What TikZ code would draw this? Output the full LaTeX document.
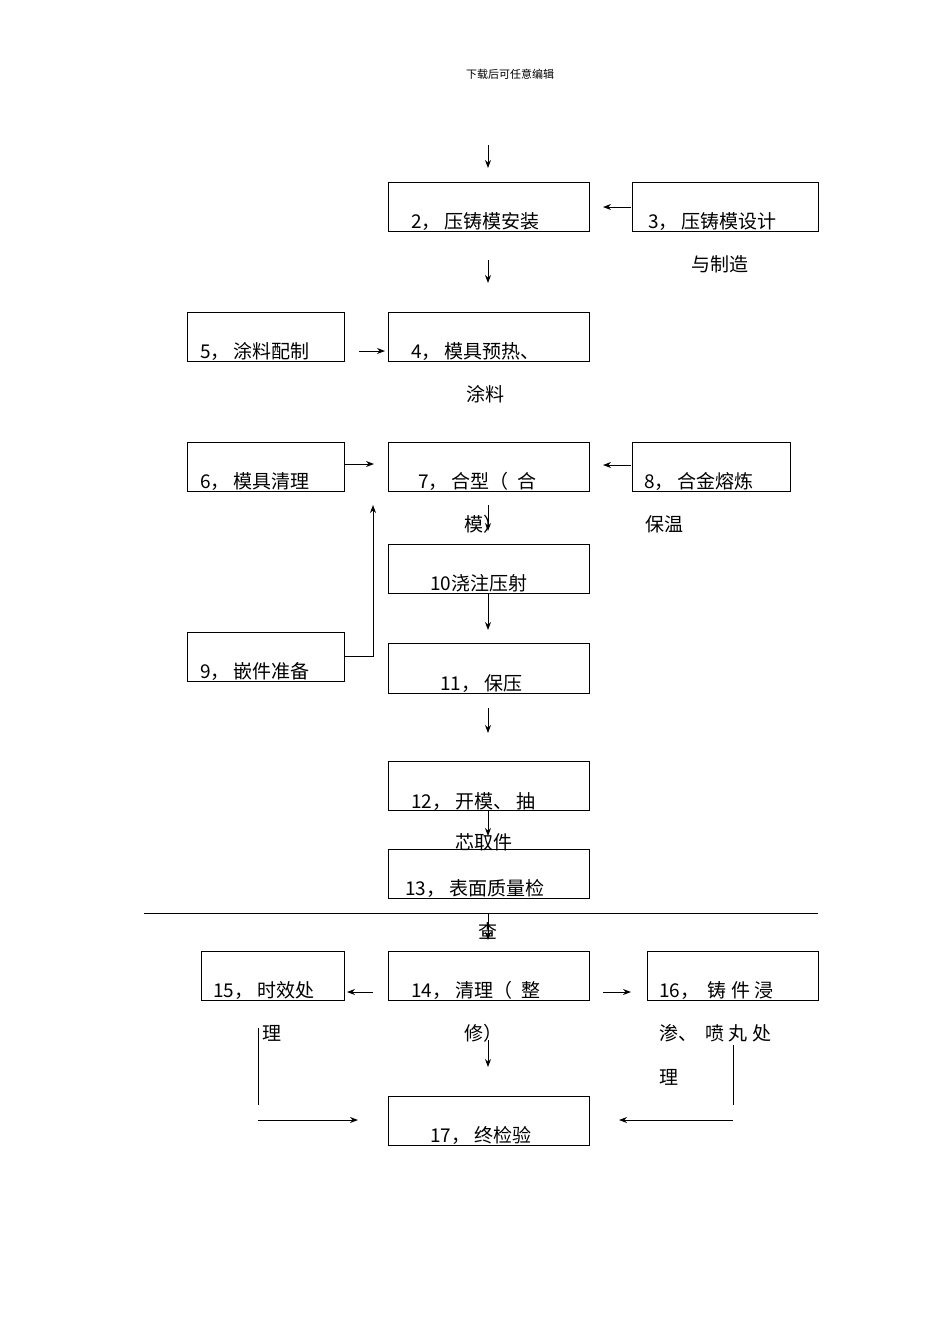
\documentclass[tikz,border=0pt]{standalone}
\usepackage{fontspec}
\setmainfont{Liberation Serif}
\newfontfamily\cjk{Noto Sans CJK SC}
\usetikzlibrary{arrows.meta}
\begin{document}
\begin{tikzpicture}[x=1pt,y=-1pt,
  bx/.style={draw,line width=1pt,inner sep=0pt},
  tx/.style={anchor=base west,inner sep=0pt,font=\cjk\fontsize{19}{22}\selectfont},
  ar/.style={line width=1pt,-{Stealth[length=8pt,width=6pt]}},
  ln/.style={line width=1pt}]
\useasboundingbox (0,0) rectangle (950,1344);
\node[anchor=base,font=\cjk\fontsize{11}{13}\selectfont] (hd) at (510,78) {下载后可任意编辑};
% boxes
\draw[bx] (388,182) rectangle (589,231); \coordinate (b2n) at (488,182); \coordinate (b2s) at (488,231);
\draw[bx] (632,182) rectangle (818,231);
\draw[bx] (187,312) rectangle (344,361);
\draw[bx] (388,312) rectangle (589,361);
\draw[bx] (187,442) rectangle (344,491);
\draw[bx] (388,442) rectangle (589,491);
\draw[bx] (632,442) rectangle (790,491);
\draw[bx] (388,544) rectangle (589,593);
\draw[bx] (187,632) rectangle (344,681);
\draw[bx] (388,643) rectangle (589,693);
\draw[bx] (388,761) rectangle (589,810);
\draw[bx] (388,849) rectangle (589,898);
\draw[bx] (201,951) rectangle (344,1000);
\draw[bx] (388,951) rectangle (589,1000);
\draw[bx] (647,951) rectangle (818,1000);
\draw[bx] (388,1096) rectangle (589,1145);
\draw[ln] (144,913) -- (818,913);
% texts
\node[tx] (t2) at (411,228) {2， 压铸模安装};
\node[tx] (t3) at (648,228) {3， 压铸模设计};
\node[tx] (t3b) at (691,271) {与制造};
\node[tx] (t5) at (200,358) {5， 涂料配制};
\node[tx] (t4) at (411,358) {4， 模具预热、};
\node[tx] (t4b) at (466,401) {涂料};
\node[tx] (t6) at (200,488) {6， 模具清理};
\node[tx] (t7) at (418,488) {7， 合型（\ \ 合};
\node[tx] (t7b) at (464,531) {模）};
\node[tx] (t8) at (644,488) {8， 合金熔炼};
\node[tx] (t8b) at (645,531) {保温};
\node[tx] (t10) at (430,590) {10浇注压射};
\node[tx] (t9) at (200,678) {9， 嵌件准备};
\node[tx] (t11) at (440,690) {11， 保压};
\node[tx] (t12) at (411,808) {12， 开模、 抽};
\node[tx] (t12b) at (455,849) {芯取件};
\node[tx] (t13) at (405,895) {13， 表面质量检};
\node[tx] (t13b) at (478,938) {查};
\node[tx] (t15) at (213,997) {15， 时效处};
\node[tx] (t15b) at (262,1040) {理};
\node[tx] (t14) at (411,997) {14， 清理（\ \ 整};
\node[tx] (t14b) at (464,1040) {修）};
\node[tx] (t16) at (659,997) {16，\ \ 铸 件 浸};
\node[tx] (t16b) at (659,1040) {渗、\ \ 喷 丸 处};
\node[tx] (t16c) at (659,1084) {理};
\node[tx] (t17) at (430,1142) {17， 终检验};
% arrows
\draw[ar] (488,145) -- (488,168);
\draw[ar] (488,260) -- (488,283);
\draw[ar] (631,207) -- (603,207);
\draw[ar] (359,351) -- (385,351);
\draw[ar] (344,464) -- (374,464);
\draw[ar] (631,465) -- (603,465);
\draw[ar] (488,505) -- (488,531);
\draw[ar] (344,656) -- (373,656) -- (373,505);
\draw[ar] (488,593) -- (488,630);
\draw[ar] (488,708) -- (488,733);
\draw[ar] (488,810) -- (488,836);
\draw[ar] (488,913) -- (488,940);
\draw[ar] (373,992) -- (347,992);
\draw[ar] (603,992) -- (631,992);
\draw[ar] (488,1040) -- (488,1067);
\draw[ln] (258,1028) -- (258,1105);
\draw[ar] (258,1120) -- (358,1120);
\draw[ln] (733,1045) -- (733,1105);
\draw[ar] (733,1120) -- (619,1120);
\end{tikzpicture}
\end{document}
